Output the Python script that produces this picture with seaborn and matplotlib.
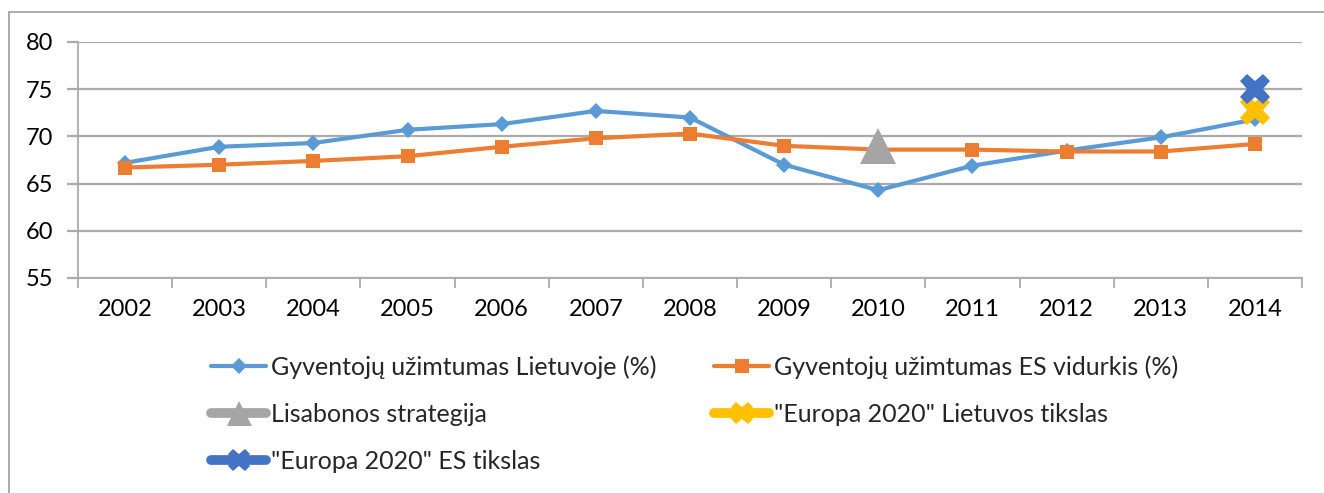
import numpy as np
import pandas as pd
import matplotlib
matplotlib.use("Agg")
import matplotlib.pyplot as plt
from matplotlib.lines import Line2D
import seaborn as sns

# Data
years = ["2002", "2003", "2004", "2005", "2006", "2007", "2008",
         "2009", "2010", "2011", "2012", "2013", "2014"]
lt_employment = [67.2, 68.9, 69.3, 70.7, 71.3, 72.7, 72.0,
                 67.0, 64.3, 66.9, 68.5, 69.9, 71.8]
eu_employment = [66.7, 67.0, 67.4, 67.9, 68.9, 69.8, 70.3,
                 69.0, 68.6, 68.6, 68.4, 68.4, 69.2]
lisbon_year, lisbon_value = "2010", 69.0
lt2020_year, lt2020_value = "2014", 72.8
eu2020_year, eu2020_value = "2014", 75.0

labels = ["Gyventojų užimtumas Lietuvoje (%)",
          "Gyventojų užimtumas ES vidurkis (%)",
          "Lisabonos strategija",
          "\"Europa 2020\" Lietuvos tikslas",
          "\"Europa 2020\" ES tikslas"]

c_lt, c_eu, c_lis, c_lt20, c_eu20 = "#5B9BD5", "#ED7D31", "#A5A5A5", "#FFC000", "#4472C4"

sns.set_theme(style="white")
plt.rcParams['font.family'] = ['Lato', 'DejaVu Sans']

W, H = 1324, 493
fig = plt.figure(figsize=(W / 100, H / 100), dpi=100)
ax = fig.add_axes([78 / W, 1 - 278 / H, (1302 - 78) / W, (278 - 42) / H])

pos = np.arange(len(years))
df = pd.DataFrame({"pos": pos, "lt": lt_employment, "eu": eu_employment})

sns.lineplot(data=df, x="pos", y="lt", ax=ax, color=c_lt, lw=3,
             marker="D", markersize=8, markeredgewidth=0, zorder=3)
sns.lineplot(data=df, x="pos", y="eu", ax=ax, color=c_eu, lw=3,
             marker="s", markersize=10, markeredgewidth=0, zorder=3)

ax.plot(years.index(lisbon_year), lisbon_value, marker="^", markersize=26,
        color=c_lis, markeredgewidth=0, zorder=4)
ax.plot(years.index(lt2020_year), lt2020_value, marker="X", markersize=22,
        color=c_lt20, markeredgewidth=0, zorder=4)
ax.plot(years.index(eu2020_year), eu2020_value, marker="X", markersize=22,
        color=c_eu20, markeredgewidth=0, zorder=5)

ax.set_xlim(-0.5, len(years) - 0.5)
ax.set_ylim(55, 80)
ax.set_yticks(np.arange(55, 81, 5))
ax.set_xticks(pos)
ax.set_xticklabels(years)
ax.set_xticks(np.arange(-0.5, len(years), 1), minor=True)
ax.set_xlabel("")
ax.set_ylabel("")

grid_c = "#ABABAB"
ax.yaxis.grid(True, color=grid_c, lw=1.6)
ax.set_axisbelow(True)
for s in ["top", "right"]:
    ax.spines[s].set_visible(False)
for s in ["left", "bottom"]:
    ax.spines[s].set_color(grid_c)
    ax.spines[s].set_linewidth(1.3)
ax.tick_params(axis="y", which="major", length=8, width=1.6, color=grid_c,
               left=True, labelsize=17, pad=10, labelcolor="black")
ax.tick_params(axis="x", which="major", length=0, labelsize=17, pad=15,
               labelcolor="black")
ax.tick_params(axis="x", which="minor", length=7, width=1.3, color=grid_c,
               bottom=True)

handles = [
    Line2D([], [], color=c_lt, lw=3, marker="D", markersize=8, markeredgewidth=0),
    Line2D([], [], color=c_lis, lw=7, marker="^", markersize=18, markeredgewidth=0),
    Line2D([], [], color=c_eu20, lw=7, marker="X", markersize=16, markeredgewidth=0),
    Line2D([], [], color=c_eu, lw=3, marker="s", markersize=10, markeredgewidth=0),
    Line2D([], [], color=c_lt20, lw=7, marker="X", markersize=16, markeredgewidth=0),
]
order = [labels[0], labels[2], labels[4], labels[1], labels[3]]
fig.legend(handles, order, loc="upper left", ncol=2,
           bbox_to_anchor=(211 / W, 1 - 355 / H), frameon=False,
           fontsize=18, handlelength=2.2, handletextpad=0.2,
           labelspacing=0.96, columnspacing=2.3, borderpad=0, borderaxespad=0)

# chart frame (cut off at right and bottom in the reference)
fig.add_artist(Line2D([9 / W, 1.0], [1 - 12 / H, 1 - 12 / H], color="#A6A6A6",
                      lw=1.3, transform=fig.transFigure))
fig.add_artist(Line2D([9 / W, 9 / W], [0.0, 1 - 12 / H], color="#A6A6A6",
                      lw=1.3, transform=fig.transFigure))

fig.savefig("out.png", dpi=100, facecolor="white")
